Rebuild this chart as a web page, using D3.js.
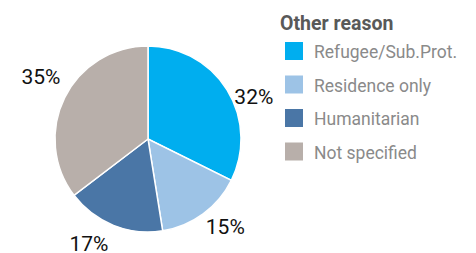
<!DOCTYPE html>
<html>
<head>
<meta charset="utf-8">
<script src="https://cdn.jsdelivr.net/npm/d3@7"></script>
<style>
  body { margin: 0; background: #fff; }
  text { font-family: Roboto, "Open Sans", sans-serif; }
</style>
</head>
<body>
<script>
var categories = ["Refugee/Sub.Prot.", "Residence only", "Humanitarian", "Not specified"];
var values = [32, 15, 17, 35];
var colors = ["#00aeef", "#9dc3e6", "#4a76a6", "#b8afaa"];
var legendTitle = "Other reason";

var w = 476, h = 253;
var cx = 148, cy = 139, r = 93;

var svg = d3.select("body").append("svg")
  .attr("width", w)
  .attr("height", h);

var color = d3.scaleOrdinal().domain(categories).range(colors);

var pie = d3.pie().sort(null).value(function(d, i) { return values[i]; });
var arcs = pie(categories);

var arc = d3.arc().innerRadius(0).outerRadius(r);

// labels sit outside the pie, nudged off the mid angle a bit like the original
var labelShift = [10, -5, 7.7, 4];   // degrees
var labelDist = [114, 117, 120, 124];
function labelPos(d, i) {
  var a = (d.startAngle + d.endAngle) / 2 + labelShift[i] * Math.PI / 180;
  return [Math.sin(a) * labelDist[i], -Math.cos(a) * labelDist[i]];
}

var g = svg.append("g").attr("transform", "translate(" + cx + "," + cy + ")");

g.selectAll("path")
  .data(arcs)
  .enter()
  .append("path")
  .attr("d", arc)
  .attr("fill", function(d) { return color(d.data); })
  .attr("stroke", "#fff")
  .attr("stroke-width", 1.5);

g.selectAll(".lbl")
  .data(arcs)
  .enter()
  .append("text")
  .attr("class", "lbl")
  .attr("x", function(d, i) { return labelPos(d, i)[0]; })
  .attr("y", function(d, i) { return labelPos(d, i)[1]; })
  .attr("dy", "0.36em")
  .attr("text-anchor", "middle")
  .style("font-size", "21px")
  .style("fill", "#111")
  .text(function(d) { return d.value + "%"; });

// legend
svg.append("text")
  .attr("x", 280)
  .attr("y", 30)
  .style("font-size", "19.5px")
  .style("font-weight", "bold")
  .style("fill", "#595959")
  .text(legendTitle);

var legend = svg.selectAll(".legend")
  .data(categories)
  .enter()
  .append("g")
  .attr("class", "legend")
  .attr("transform", function(d, i) { return "translate(285," + (42 + i * 33.5) + ")"; });

legend.append("rect")
  .attr("width", 18)
  .attr("height", 18)
  .attr("fill", function(d) { return color(d); });

legend.append("text")
  .attr("x", 29)
  .attr("y", 16)
  .style("font-size", "17.5px")
  .style("fill", "#8a8a8a")
  .text(function(d) { return d; });
</script>
</body>
</html>
